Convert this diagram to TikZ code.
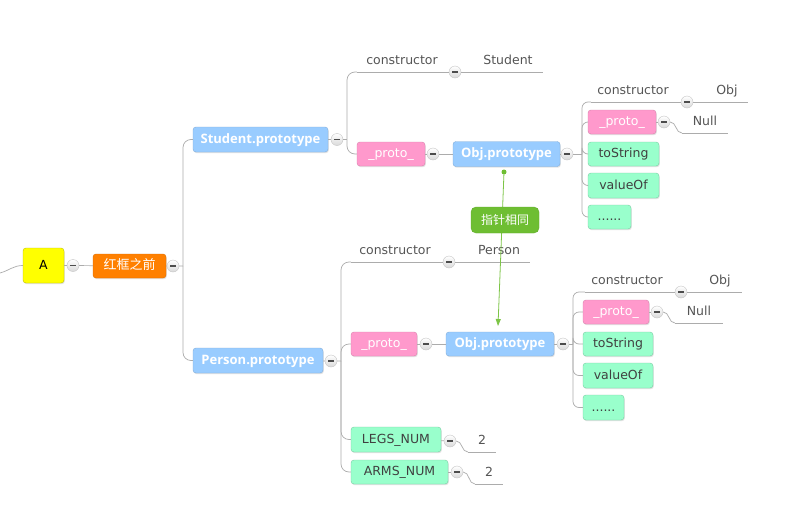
\documentclass[tikz,border=0pt]{standalone}
\usepackage{fontspec}
\setmainfont{DejaVu Sans}
\newfontfamily\boldfont{Open Sans}
\newfontfamily\cjk{Noto Sans CJK SC}
\usetikzlibrary{shadows,arrows.meta}

\definecolor{linegray}{RGB}{172,172,172}
\definecolor{leaftext}{RGB}{85,85,85}
\definecolor{bluefill}{RGB}{153,204,255}
\definecolor{pinkfill}{RGB}{255,153,204}
\definecolor{mintfill}{RGB}{153,255,204}
\definecolor{orangefill}{RGB}{255,128,0}
\definecolor{yellowfill}{RGB}{255,255,0}
\definecolor{ptrgreen}{RGB}{110,190,50}
\newcommand{\mapfont}{\fontsize{12.5}{15}\selectfont}

\begin{document}
\begin{tikzpicture}[x=1pt, y=-1pt, every node/.style={font=\mapfont},
    link/.style={draw=linegray, line width=0.7pt},
    topic/.style={draw, rounded corners=3pt, minimum height=24, inner sep=0pt, text height=9.5pt, text depth=2.5pt,
      drop shadow={opacity=0.22, shadow xshift=0.8pt, shadow yshift=-1.2pt}},
    bluebox/.style={topic, fill=bluefill, draw=bluefill!85!black, text=white, font=\fontsize{13}{15}\boldfont\bfseries},
    pinkbox/.style={topic, fill=pinkfill, draw=pinkfill!85!black, text=white},
    mintbox/.style={topic, fill=mintfill, draw=mintfill!80!black, text=black!75},
    fold/.style={circle, minimum size=12, inner sep=0pt, draw=gray!45, top color=white, bottom color=gray!30,
      path picture={\draw[line width=1.4pt, gray!60!black] ([xshift=-2.7pt]path picture bounding box.center) -- ([xshift=2.7pt]path picture bounding box.center);}},
    leaf/.style={anchor=south, inner xsep=0pt, inner ysep=7pt, text depth=0pt, text=leaftext,
      append after command={(\tikzlastnode.south west) edge[link] (\tikzlastnode.south east)}},
    note/.style={draw=ptrgreen!90!black, fill=ptrgreen, rounded corners=5pt, text=white, minimum width=68, minimum height=26, font=\fontsize{12}{14}\cjk},
    ptr/.style={draw=ptrgreen!90!white, line width=0.8pt, -{Triangle[length=7pt,width=5pt]}}]
  \path[use as bounding box, fill=white] (0,0) rectangle (809,525);

  % root
  \coordinate (in) at (0,273);
  \node[topic, fill=yellowfill, draw=yellowfill!75!black, minimum width=41, minimum height=35] (A) at (43.5,265.5) {A};
  \node[fold] (fA) at (73,265.5) {};
  \node[topic, fill=orangefill, draw=orangefill!85!black, text=white, minimum width=73, font=\fontsize{13}{15}\cjk] (R) at (129.5,266) {红框之前};
  \node[fold] (fR) at (173,266) {};
  \coordinate (b1) at (183,266);

  % Student.prototype
  \node[bluebox, minimum width=135, minimum height=25] (SP) at (260.5,139.5) {Student.prototype};
  \node[fold] (fSP) at (337,139.5) {};
  \coordinate (b2) at (347,139.5);
  \node[leaf, minimum width=90] (sc) at (402,72) {constructor};
  \node[fold] (fsc) at (455,72) {};
  \node[leaf, minimum width=70] (scv) at (508,72) {Student};
  \node[pinkbox, minimum width=68] (spr) at (391,154) {\_proto\_};
  \node[fold] (fspr) at (433,154) {};
  \node[bluebox, minimum width=107, minimum height=25] (so) at (506.5,154) {Obj.prototype};
  \node[fold] (fso) at (567,154) {};
  \coordinate (b3) at (582,154);
  \node[leaf, minimum width=84] (oc) at (633,102) {constructor};
  \node[fold] (foc) at (687,102) {};
  \node[leaf, minimum width=42] (ocv) at (727,102) {Obj};
  \node[pinkbox, minimum width=68] (opr) at (622,122) {\_proto\_};
  \node[fold] (fopr) at (664,122) {};
  \node[leaf, minimum width=46] (on) at (705,133) {Null};
  \node[mintbox, minimum width=71] (ots) at (623.5,154) {toString};
  \node[mintbox, minimum width=71, minimum height=25] (ovo) at (623.5,185.5) {valueOf};
  \node[mintbox, minimum width=43] (odt) at (609.5,217) {......};

  % Person.prototype
  \node[bluebox, minimum width=130, minimum height=25] (PP) at (258,360.5) {Person.prototype};
  \node[fold] (fPP) at (331,361) {};
  \coordinate (b4) at (341,361);
  \node[leaf, minimum width=88] (pc) at (395,262) {constructor};
  \node[fold] (fpc) at (449,262) {};
  \node[leaf, minimum width=62] (pcv) at (499,262) {Person};
  \node[pinkbox, minimum width=66] (ppr) at (384,344) {\_proto\_};
  \node[fold] (fppr) at (426,344) {};
  \node[bluebox, minimum width=108] (po) at (500,344) {Obj.prototype};
  \node[fold] (fpo) at (563,344) {};
  \coordinate (b5) at (573,344);
  \node[leaf, minimum width=84] (poc) at (627,292) {constructor};
  \node[fold] (fpoc) at (681,292) {};
  \node[leaf, minimum width=44] (pocv) at (720,292) {Obj};
  \node[pinkbox, minimum width=66] (popr) at (616,312) {\_proto\_};
  \node[fold] (fpopr) at (657,312) {};
  \node[leaf, minimum width=48] (pon) at (699,323) {Null};
  \node[mintbox, minimum width=70] (pts) at (618,344) {toString};
  \node[mintbox, minimum width=70, minimum height=25] (pvo) at (618,375.5) {valueOf};
  \node[mintbox, minimum width=41, minimum height=25] (pdt) at (603.5,407.5) {......};
  \node[mintbox, minimum width=90, minimum height=25] (legs) at (396,439.5) {LEGS\_NUM};
  \node[fold] (flegs) at (450,441) {};
  \node[leaf, minimum width=28] (lv) at (482,452) {2};
  \node[mintbox, minimum width=97] (arms) at (399.5,472) {ARMS\_NUM};
  \node[fold] (farms) at (457,472) {};
  \node[leaf, minimum width=28] (av) at (489,484) {2};

  % connectors
  \draw[link] (in) to[out=15,in=180] (A.west);
  \draw[link] (A) -- (fA) -- (R) -- (fR) -- (b1);
  \foreach \n in {SP,PP}
    \draw[link, rounded corners=8] (b1) |- (\n.west);

  \draw[link] (SP) -- (fSP) -- (b2);
  \foreach \n in {sc.south west,spr.west}
    \draw[link, rounded corners=8] (b2) |- (\n);
  \draw[link] (sc.south east) -- (fsc) -- (scv.south west);
  \draw[link] (spr) -- (fspr) -- (so) -- (fso) -- (b3);
  \foreach \n in {oc.south west,opr.west,ots.west,ovo.west,odt.west}
    \draw[link, rounded corners=6] (b3) |- (\n);
  \draw[link] (oc.south east) -- (foc) -- (ocv.south west);
  \draw[link] (opr) -- (fopr);
  \draw[link] (fopr.east) to[out=0,in=180] (on.south west);

  \draw[link] (PP) -- (fPP) -- (b4);
  \foreach \n in {pc.south west,ppr.west,legs.west,arms.west}
    \draw[link, rounded corners=8] (b4) |- (\n);
  \draw[link] (pc.south east) -- (fpc) -- (pcv.south west);
  \draw[link] (ppr) -- (fppr) -- (po) -- (fpo) -- (b5);
  \foreach \n in {poc.south west,popr.west,pts.west,pvo.west,pdt.west}
    \draw[link, rounded corners=6] (b5) |- (\n);
  \draw[link] (poc.south east) -- (fpoc) -- (pocv.south west);
  \draw[link] (popr) -- (fpopr);
  \draw[link] (fpopr.east) to[out=0,in=180] (pon.south west);
  \draw[link] (legs) -- (flegs);
  \draw[link] (flegs.east) to[out=0,in=180] (lv.south west);
  \draw[link] (arms) -- (farms);
  \draw[link] (farms.east) to[out=0,in=180] (av.south west);

  % pointer
  \node[circle, fill=ptrgreen, inner sep=0pt, minimum size=5] (pd) at (504,172) {};
  \coordinate (pe) at (498,326);
  \draw[ptr] (pd) -- (pe);
  \node[note] (pl) at (505,220) {指针相同};
\end{tikzpicture}
\end{document}
